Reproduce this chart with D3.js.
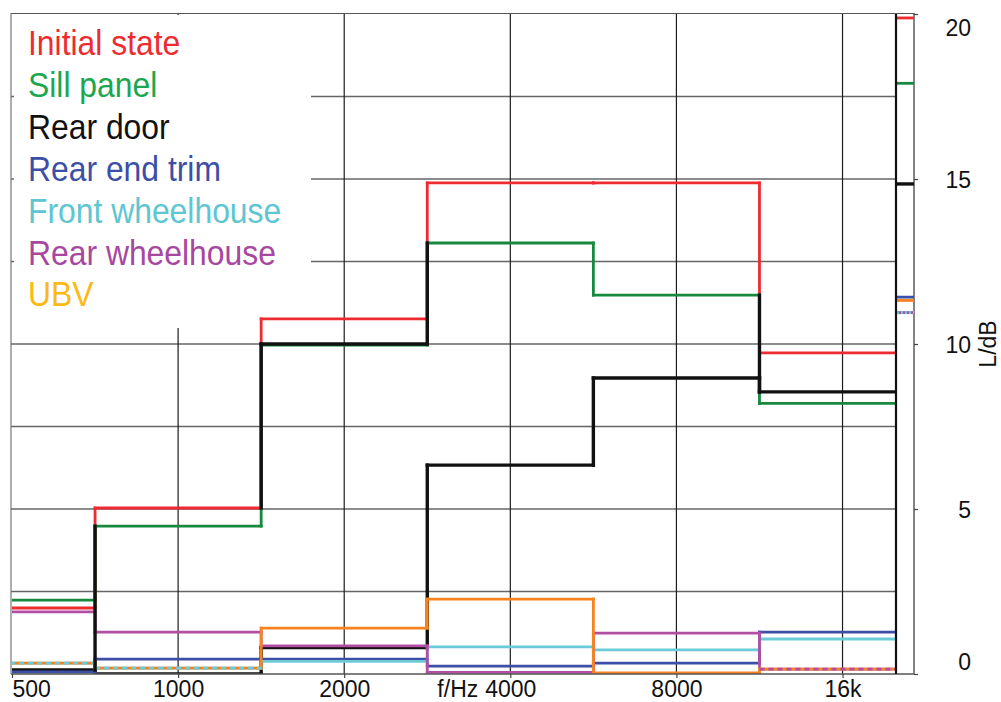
<!DOCTYPE html>
<html>
<head>
<meta charset="utf-8">
<script src="https://cdn.jsdelivr.net/npm/d3@7"></script>
<style>
  html, body { margin: 0; background: #fff; }
  svg { display: block; }
</style>
</head>
<body>
<svg id="chart" width="1001" height="702"></svg>
<script>
// Octave bands (centre frequencies) and their axis labels
const bandCentres = [500, 1000, 2000, 4000, 8000, 16000];
const bandLabels = ["500", "1000", "2000", "4000", "8000", "16k"];

// Level per octave band, dB
const seriesNames = ["Initial state", "Sill panel", "Rear door", "Rear end trim",
                     "Front wheelhouse", "Rear wheelhouse", "UBV"];
const initialState    = [2.00, 5.03, 10.76, 14.88, 14.88, 9.73];
const sillPanel       = [2.24, 4.48,  9.97, 13.06, 11.48, 8.20];
const rearDoor        = [0.12, 0.00,  0.80,  6.33,  8.97, 8.55];
const rearEndTrim     = [0.06, 0.45,  0.45,  0.24,  0.33, 1.27];
const frontWheelhouse = [0.33, 0.18,  0.38,  0.82,  0.73, 1.06];
const rearWheelhouse  = [1.88, 1.27,  0.85,  0.05,  1.24, 0.15];
const ubv             = [0.33, 0.18,  1.39,  2.27,  0.03, 0.15];

// Overall level of each series (narrow column at the right)
const overallLevels = [19.88, 17.90, 14.85, 11.42, 10.95, 10.95, 11.32];

// Extra rear-door trace: risers at band edges [edge index, from dB, to dB] and one band level
const doorTraceRisers = [[0, 0.12, 4.48], [1, 5.03, 10.0], [2, 10.0, 13.06], [4, 11.48, 8.55]];
const doorTraceLevels = [[2, 10.0]];

// Axis ticks and grid
const yTicks = [0, 5, 10, 15, 20];
const yGrid = [2.5, 5, 7.5, 10, 12.5, 15, 17.5];

const lineColours   = ["#ee2b30", "#17893f", "#111111", "#3c4ea6", "#6ccbd9", "#b24ea3", "#f6831f"];
const legendColours = ["#ee2b30", "#1ba64f", "#111111", "#3c4ea6", "#5ec6d2", "#a8479f", "#fdb913"];

const seriesValues = [initialState, sillPanel, rearDoor, rearEndTrim, frontWheelhouse, rearWheelhouse, ubv];

(function draw() {
  const svg = d3.select("#chart");
  const pLeft = 12, pRight = 896, pTop = 14, pBottom = 674, stripRight = 914;
  const font = "'Liberation Sans', Arial, sans-serif";

  const x = d3.scaleLog().domain([500, 20000]).range([pLeft, pRight]);
  const y = d3.scaleLinear().domain([0, 20]).range([pBottom, pTop]);
  const stripX = d3.scaleLinear().domain([0, 1]).range([pRight, stripRight]);

  const lower = c => c / Math.SQRT2;
  const upper = c => c * Math.SQRT2;
  const widthOf = i => (i === 2 ? 3.4 : 2.8);

  // Grid
  const grid = svg.append("g");
  grid.selectAll("line.h").data(yGrid).join("line")
    .attr("x1", 11).attr("x2", pRight)
    .attr("y1", d => y(d)).attr("y2", d => y(d))
    .attr("stroke", "#666").attr("stroke-width", 1.4);
  grid.selectAll("line.v").data(bandCentres.slice(1)).join("line")
    .attr("x1", d => x(d)).attr("x2", d => x(d))
    .attr("y1", pTop).attr("y2", pBottom)
    .attr("stroke", "#1c1c1c").attr("stroke-width", 1.2);

  // Legend background hides the grid behind the labels
  svg.append("rect").attr("x", 14).attr("y", 15).attr("width", 297).attr("height", 313).attr("fill", "#fff");

  // Frame
  const frame = svg.append("g").attr("fill", "none");
  frame.append("line").attr("x1", 11).attr("x2", stripRight).attr("y1", 13.5).attr("y2", 13.5)
    .attr("stroke", "#555").attr("stroke-width", 1.2);
  frame.append("line").attr("x1", 11).attr("x2", 11).attr("y1", 13).attr("y2", pBottom)
    .attr("stroke", "#777").attr("stroke-width", 1.2);
  frame.append("line").attr("x1", stripRight).attr("x2", stripRight).attr("y1", 13).attr("y2", pBottom)
    .attr("stroke", "#333").attr("stroke-width", 1.2);

  // Plot clip
  svg.append("clipPath").attr("id", "plotClip").append("rect")
    .attr("x", pLeft).attr("y", 0).attr("width", pRight - pLeft).attr("height", pBottom);

  const plot = svg.append("g").attr("clip-path", "url(#plotClip)")
    .attr("stroke-linecap", "square");

  // Step lines: risers at band edges, then band levels
  seriesValues.forEach((vals, s) => {
    const g = plot.append("g").attr("stroke", lineColours[s]).attr("stroke-width", widthOf(s));
    const risers = vals.slice(1).map((v, i) => ({ e: upper(bandCentres[i]), a: vals[i], b: v }));
    g.selectAll("line.r").data(risers).join("line")
      .attr("x1", d => x(d.e)).attr("x2", d => x(d.e))
      .attr("y1", d => y(d.a)).attr("y2", d => y(d.b));
    g.selectAll("line.b").data(vals.map((v, i) => ({ c: bandCentres[i], v }))).join("line")
      .attr("x1", d => x(lower(d.c))).attr("x2", d => x(upper(d.c)))
      .attr("y1", d => y(d.v)).attr("y2", d => y(d.v));
  });

  // Coincident band levels are drawn dashed over the later series
  const dashed = plot.append("g");
  bandCentres.forEach((c, b) => {
    seriesValues.forEach((vals, s) => {
      const later = seriesValues.some((o, t) => t > s && Math.abs(o[b] - vals[b]) < 0.01);
      if (later) {
        dashed.append("line")
          .attr("x1", x(lower(c))).attr("x2", x(upper(c)))
          .attr("y1", y(vals[b])).attr("y2", y(vals[b]))
          .attr("stroke", lineColours[s]).attr("stroke-width", widthOf(s))
          .attr("stroke-dasharray", "5,4").attr("stroke-linecap", "butt");
      }
    });
  });

  // Additional rear-door trace on top
  const trace = plot.append("g").attr("stroke", lineColours[2]).attr("stroke-width", 3.4);
  trace.selectAll("line.r").data(doorTraceRisers).join("line")
    .attr("x1", d => x(upper(bandCentres[d[0]]))).attr("x2", d => x(upper(bandCentres[d[0]])))
    .attr("y1", d => y(d[1])).attr("y2", d => y(d[2]));
  trace.selectAll("line.b").data(doorTraceLevels).join("line")
    .attr("x1", d => x(lower(bandCentres[d[0]]))).attr("x2", d => x(upper(bandCentres[d[0]])))
    .attr("y1", d => y(d[1])).attr("y2", d => y(d[1]));

  // Overall levels column
  const strip = svg.append("g");
  strip.selectAll("line").data(overallLevels.map((v, i) => ({ v, i }))).join("line")
    .attr("x1", stripX(0) + 1).attr("x2", stripX(1))
    .attr("y1", d => y(d.v)).attr("y2", d => y(d.v))
    .attr("stroke", d => lineColours[d.i]).attr("stroke-width", d => widthOf(d.i));
  overallLevels.forEach((v, i) => {
    const later = overallLevels.some((o, t) => t > i && Math.abs(o - v) < 0.01);
    if (later) {
      strip.append("line").attr("x1", stripX(0) + 1).attr("x2", stripX(1))
        .attr("y1", y(v)).attr("y2", y(v))
        .attr("stroke", lineColours[i]).attr("stroke-width", widthOf(i))
        .attr("stroke-dasharray", "2,2");
    }
  });

  // Bottom edge and main plot's right edge
  svg.append("line").attr("x1", 11).attr("x2", stripRight).attr("y1", pBottom).attr("y2", pBottom)
    .attr("stroke", "#555").attr("stroke-width", 1.4);
  svg.append("line").attr("x1", pRight).attr("x2", pRight).attr("y1", pTop).attr("y2", pBottom)
    .attr("stroke", "#111").attr("stroke-width", 2.2);

  // X axis
  const xAxis = svg.append("g").attr("transform", `translate(0,${pBottom})`)
    .call(d3.axisBottom(x).tickValues(bandCentres).tickFormat((d, i) => bandLabels[i]).tickSize(4));
  xAxis.select(".domain").remove();
  xAxis.selectAll(".tick line").attr("stroke", "#444").attr("stroke-width", 1.2);
  xAxis.selectAll(".tick text")
    .attr("y", 23).attr("dy", 0)
    .attr("font-family", font).attr("font-size", 23)
    .attr("fill", "#111")
    .attr("text-anchor", d => (d === 500 ? "start" : "middle"));
  xAxis.selectAll(".tick").filter(d => d === 4000).each(function () {
    const t = d3.select(this).select("text");
    const w = t.node().getComputedTextLength();
    d3.select(this).append("text")
      .attr("x", -w / 2 - 7).attr("y", 23)
      .attr("text-anchor", "end")
      .attr("font-family", font).attr("font-size", 23)
      .attr("fill", "#111").text("f/Hz");
  });

  // Y axis (right)
  const yAxis = svg.append("g").attr("transform", `translate(${stripRight},0)`)
    .call(d3.axisRight(y).tickValues(yTicks).tickSize(4));
  yAxis.select(".domain").remove();
  yAxis.selectAll(".tick line").attr("stroke", "#444").attr("stroke-width", 1.2);
  yAxis.selectAll(".tick text")
    .attr("x", 57).attr("text-anchor", "end")
    .attr("y", d => Math.min(Math.max(y(d), 27), 661) - y(d))
    .attr("dy", "0.36em")
    .attr("font-family", font).attr("font-size", 23)
    .attr("fill", "#111");
  svg.append("text")
    .attr("transform", `translate(996,${y(10)}) rotate(-90)`)
    .attr("text-anchor", "middle")
    .attr("font-family", font).attr("font-size", 23)
    .attr("fill", "#111").text("L/dB");

  // Legend
  const legend = svg.append("g");
  seriesNames.forEach((name, i) => {
    legend.append("text")
      .attr("transform", `translate(28,${55 + i * 41.9}) scale(0.885,1)`)
      .attr("font-family", font).attr("font-size", 36)
      .attr("fill", legendColours[i]).text(name);
  });
})();
</script>
</body>
</html>
